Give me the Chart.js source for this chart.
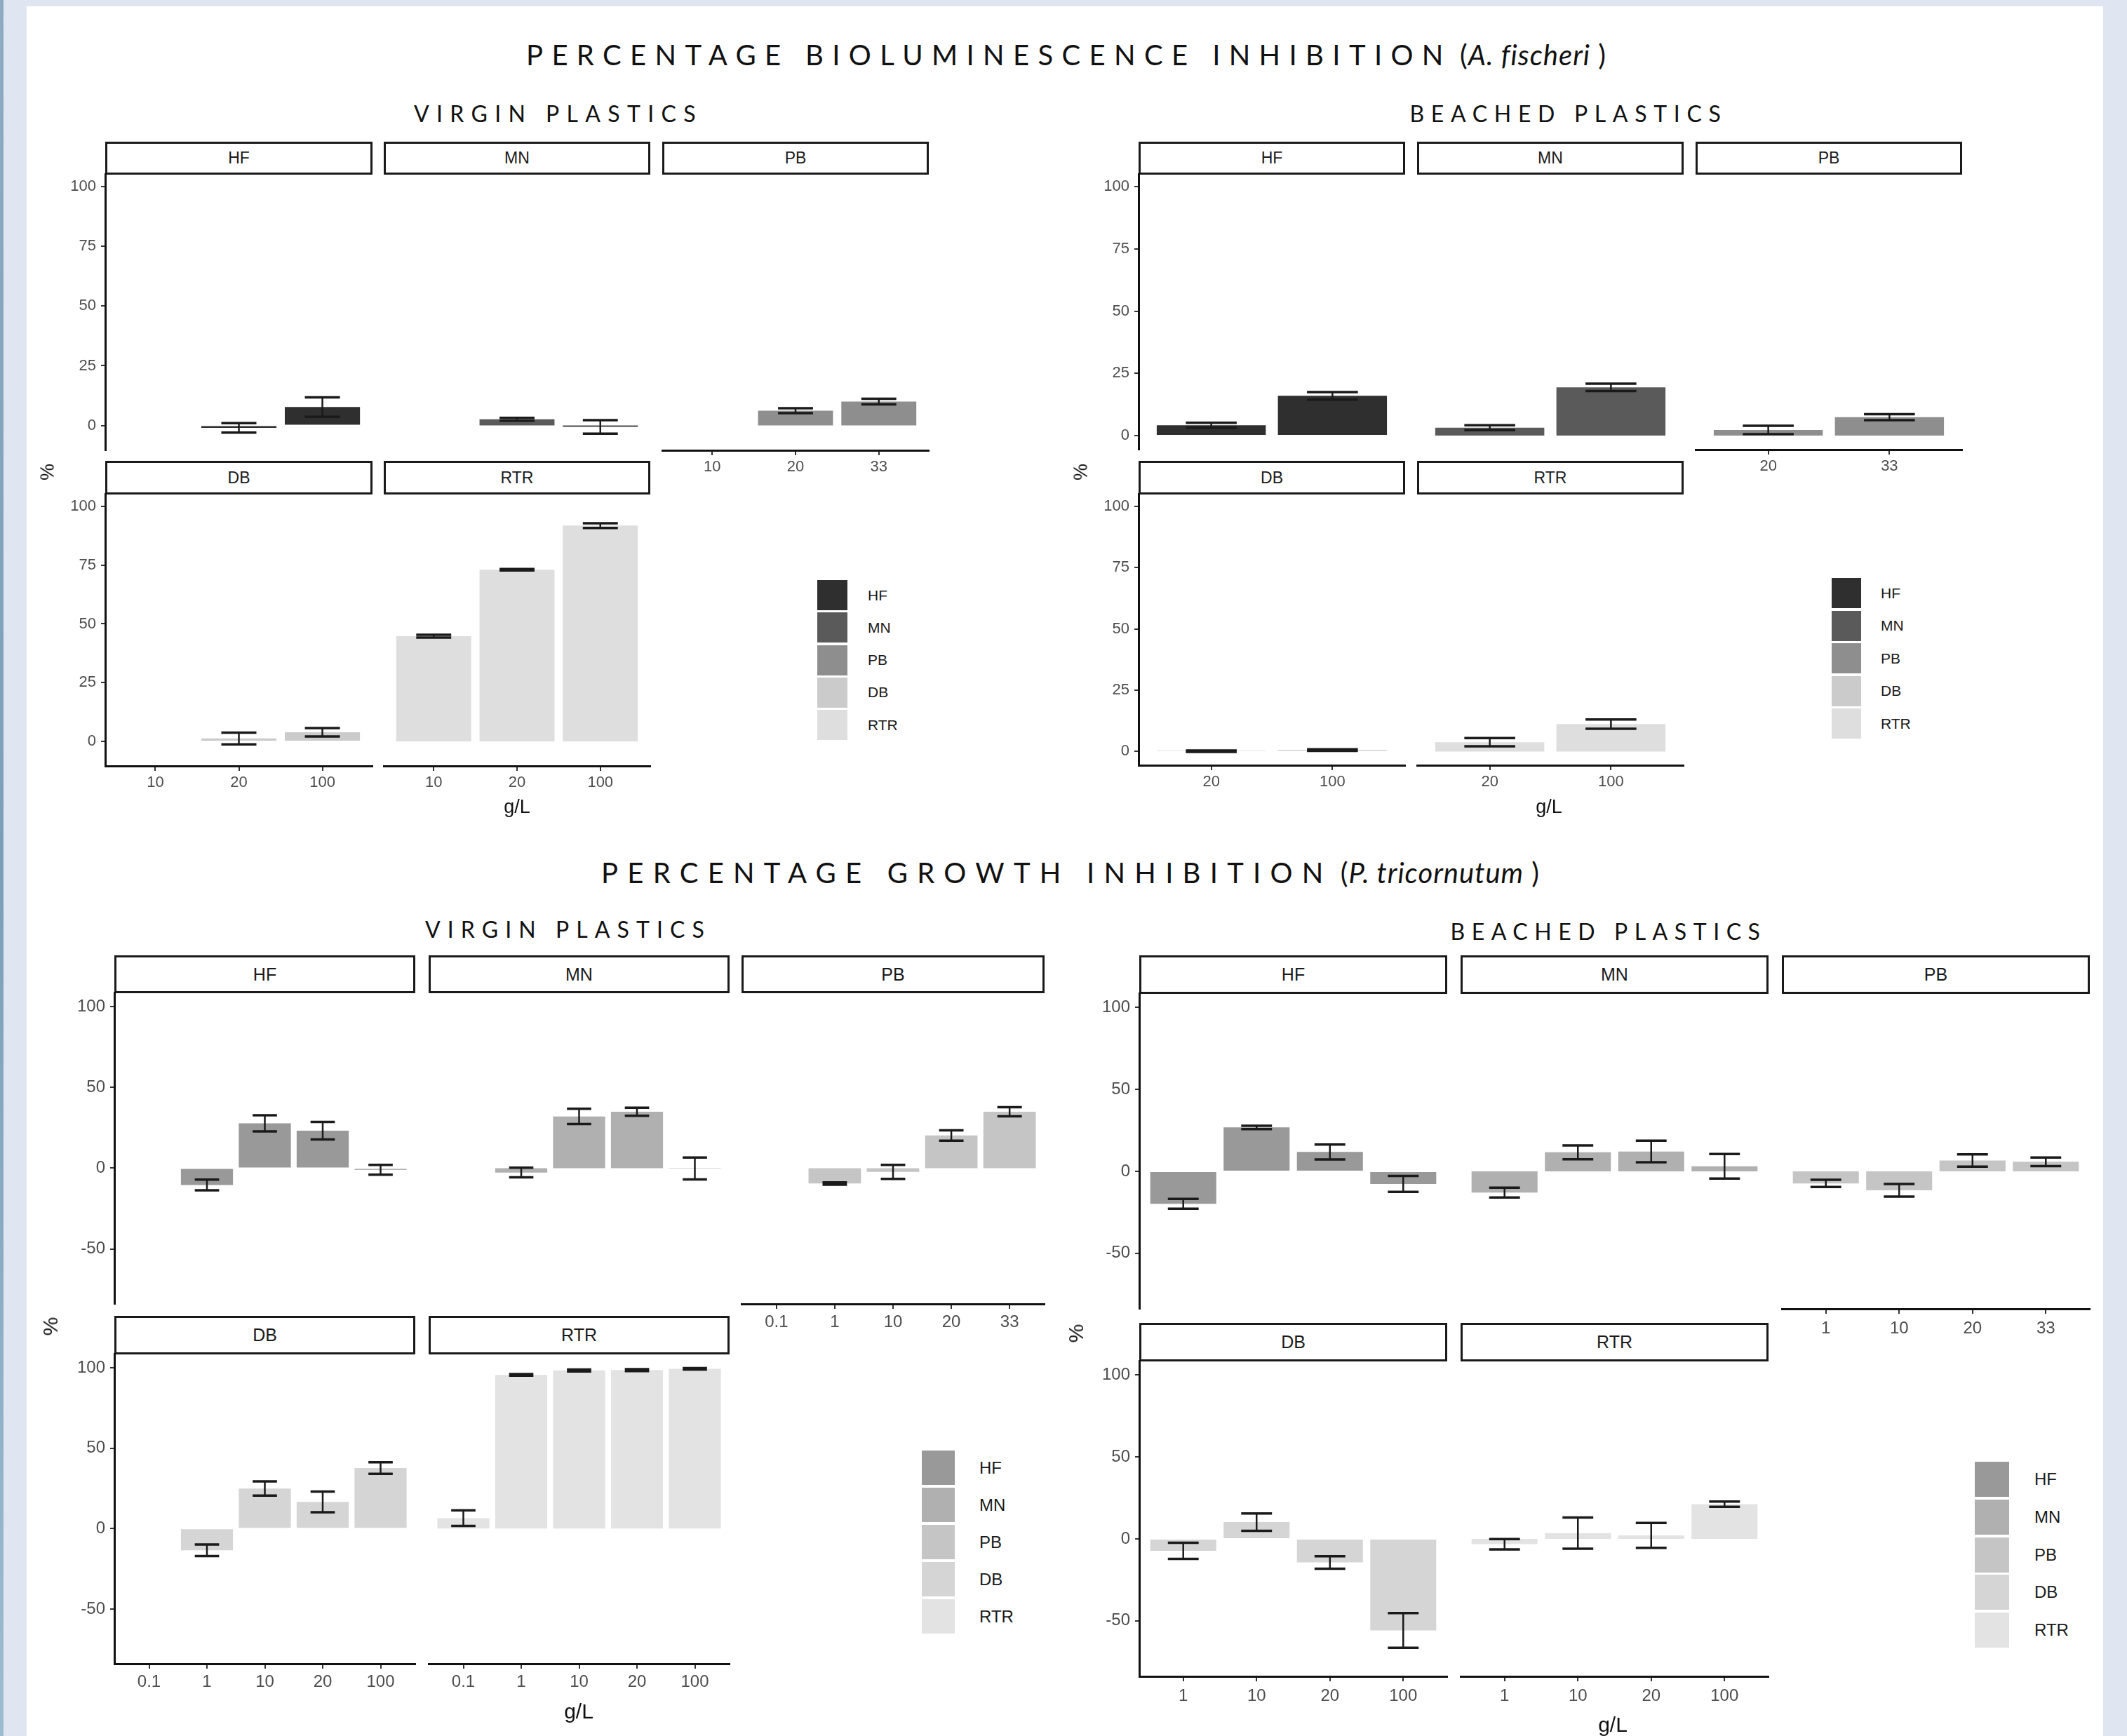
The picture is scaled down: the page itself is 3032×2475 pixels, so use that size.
<!DOCTYPE html>
<html>
<head>
<meta charset="utf-8">
<title>Percentage inhibition</title>
<script src="https://cdn.jsdelivr.net/npm/chart.js@4.4.1/dist/chart.umd.min.js"></script>
<style>
  html, body { margin: 0; padding: 0; }
  body { width: 3032px; height: 2475px; position: relative; overflow: hidden; background: #dfe6f2; font-family: 'Liberation Sans', Arial, sans-serif; }
  #edge { position: absolute; left: 0; top: 0; width: 5px; height: 2475px; background: linear-gradient(#8eabc2, #7c9fb9 50%, #9dbcd0); }
  #sheet { position: absolute; left: 38px; top: 9px; width: 2960px; height: 2466px; background: #fff; }
  canvas { position: absolute; }
  .strip { position: absolute; box-sizing: border-box; border: 3px solid #1a1a1a; background: #fff; color: #1a1a1a; display: flex; align-items: center; justify-content: center; }
  .title { position: absolute; white-space: nowrap; font-family: 'Lato', 'Open Sans', sans-serif; color: #111; transform: translate(-50%, -50%); line-height: 1; }
  .title .sp { letter-spacing: 1px; }
  .lab { position: absolute; white-space: nowrap; color: #111; transform: translate(-50%, -50%); }
  .key { position: absolute; }
  .ktxt { position: absolute; color: #1a1a1a; display: flex; align-items: center; }
</style>
</head>
<body>
<div id="edge"></div>
<div id="sheet"></div>

<div class="title" id="t1" style="left:1520px; top:78px; font-size:40px;"><span class="caps">PERCENTAGE BIOLUMINESCENCE INHIBITION</span><span class="sp"> (<i>A. fischeri</i> )</span></div>
<div class="title" id="s1" style="left:796px; top:162px; font-size:32px;"><span class="caps">VIRGIN PLASTICS</span></div>
<div class="title" id="s2" style="left:2236px; top:162px; font-size:32px;"><span class="caps">BEACHED PLASTICS</span></div>
<div class="title" id="t2" style="left:1526px; top:1244px; font-size:40px;"><span class="caps">PERCENTAGE GROWTH INHIBITION</span><span class="sp"> (<i>P. tricornutum</i> )</span></div>
<div class="title" id="s3" style="left:810px; top:1325px; font-size:32px;"><span class="caps">VIRGIN PLASTICS</span></div>
<div class="title" id="s4" style="left:2293px; top:1328px; font-size:32px;"><span class="caps">BEACHED PLASTICS</span></div>

<script>
// ---- data ----
var plastics = ['HF', 'MN', 'PB', 'DB', 'RTR'];

// x categories, g/L
var bioVirginDose = ['10', '20', '100'];
var bioVirginDosePB = ['10', '20', '33'];
var bioBeachedDose = ['20', '100'];
var bioBeachedDosePB = ['20', '33'];
var growVirginDose = ['0.1', '1', '10', '20', '100'];
var growVirginDosePB = ['0.1', '1', '10', '20', '33'];
var growBeachedDose = ['1', '10', '20', '100'];
var growBeachedDosePB = ['1', '10', '20', '33'];

// y tick labels
var bioTicks = [0, 25, 50, 75, 100];
var growTicks = [-50, 0, 50, 100];

// bioluminescence inhibition (A. fischeri), virgin plastics: mean and error
var bioVirginHF = [null, -1.0, 7.7];
var bioVirginHFsd = [null, 2.0, 4.1];
var bioVirginMN = [null, 2.6, -0.6];
var bioVirginMNsd = [null, 0.6, 2.8];
var bioVirginPB = [null, 6.2, 10.0];
var bioVirginPBsd = [null, 1.0, 1.2];
var bioVirginDB = [null, 1.3, 3.9];
var bioVirginDBsd = [null, 2.5, 1.8];
var bioVirginRTR = [44.8, 73.0, 91.8];
var bioVirginRTRsd = [0.6, 0.3, 1.0];

// bioluminescence inhibition, beached plastics
var bioBeachedHF = [4.2, 16.0];
var bioBeachedHFsd = [1.0, 1.5];
var bioBeachedMN = [3.2, 19.4];
var bioBeachedMNsd = [1.0, 1.5];
var bioBeachedPB = [2.3, 7.4];
var bioBeachedPBsd = [1.7, 1.2];
var bioBeachedDB = [0.1, 0.6];
var bioBeachedDBsd = [0.3, 0.3];
var bioBeachedRTR = [3.8, 11.2];
var bioBeachedRTRsd = [1.7, 1.9];

// growth inhibition (P. tricornutum), virgin plastics
var growVirginHF = [null, -10.4, 27.7, 23.2, -1.0];
var growVirginHFsd = [null, 3.3, 5.0, 5.4, 3.0];
var growVirginMN = [null, -2.7, 32.0, 34.9, -0.2];
var growVirginMNsd = [null, 3.0, 4.7, 2.5, 6.8];
var growVirginPB = [null, -9.5, -2.3, 20.2, 34.9];
var growVirginPBsd = [null, 0.7, 4.3, 3.2, 2.8];
var growVirginDB = [null, -13.5, 24.9, 16.6, 37.6];
var growVirginDBsd = [null, 3.6, 4.4, 6.4, 3.6];
var growVirginRTR = [6.5, 95.5, 98.3, 98.5, 99.3];
var growVirginRTRsd = [4.9, 0.5, 0.6, 0.6, 0.4];

// growth inhibition, beached plastics
var growBeachedHF = [-19.9, 26.8, 11.8, -7.7];
var growBeachedHFsd = [3.0, 1.0, 4.6, 4.9];
var growBeachedMN = [-13.0, 11.6, 12.1, 3.1];
var growBeachedMNsd = [3.0, 4.2, 6.6, 7.5];
var growBeachedPB = [-7.4, -11.6, 6.6, 5.8];
var growBeachedPBsd = [2.2, 3.9, 3.7, 2.6];
var growBeachedDB = [-7.3, 10.2, -14.4, -55.9];
var growBeachedDBsd = [4.9, 5.3, 3.8, 10.6];
var growBeachedRTR = [-3.3, 3.5, 2.1, 21.2];
var growBeachedRTRsd = [3.2, 9.5, 7.6, 1.6];

// fill colours
var bioGreys = ['#2f2f2f', '#5a5a5a', '#8e8e8e', '#cbcbcb', '#dedede'];
var growGreys = ['#999999', '#b0b0b0', '#c5c5c5', '#d5d5d5', '#e3e3e3'];

// ---- layout ----
var AXW = 80;   // room left of panel for y ticks
var AXH = 56;   // room under panel for x ticks
var slots = [[0, 0], [1, 0], [2, 0], [0, 1], [1, 1]];

var quads = [
  {
    cols: [[150, 531], [547, 927], [944, 1324]],
    rows: [[202, 247, 642], [657, 703, 1092]],
    yMin: -10.4, yMax: 105.6, yTicks: bioTicks, greys: bioGreys,
    facets: [
      [bioVirginDose, bioVirginHF, bioVirginHFsd],
      [bioVirginDose, bioVirginMN, bioVirginMNsd],
      [bioVirginDosePB, bioVirginPB, bioVirginPBsd],
      [bioVirginDose, bioVirginDB, bioVirginDBsd],
      [bioVirginDose, bioVirginRTR, bioVirginRTRsd]
    ],
    fs: 22, pad: 4, sfs: 23, pct: [68, 673], gl: [737, 1150], gfs: 27,
    leg: { x: 1165, y: 827, w: 43, h: 43, step: 46.25, tx: 1237, fs: 21 }
  },
  {
    cols: [[1623, 2003], [2020, 2400], [2417, 2797]],
    rows: [[202, 247, 641], [657, 703, 1091]],
    yMin: -5.6, yMax: 105.4, yTicks: bioTicks, greys: bioGreys,
    facets: [
      [bioBeachedDose, bioBeachedHF, bioBeachedHFsd],
      [bioBeachedDose, bioBeachedMN, bioBeachedMNsd],
      [bioBeachedDosePB, bioBeachedPB, bioBeachedPBsd],
      [bioBeachedDose, bioBeachedDB, bioBeachedDBsd],
      [bioBeachedDose, bioBeachedRTR, bioBeachedRTRsd]
    ],
    fs: 22, pad: 4, sfs: 23, pct: [1541, 673], gl: [2208, 1150], gfs: 27,
    leg: { x: 2611, y: 824, w: 42, h: 43, step: 46.5, tx: 2681, fs: 21 }
  },
  {
    cols: [[163, 592], [611, 1040], [1057, 1489]],
    rows: [[1362, 1414, 1859], [1876, 1929, 2372]],
    yMin: -84, yMax: 109.1, yTicks: growTicks, greys: growGreys,
    facets: [
      [growVirginDose, growVirginHF, growVirginHFsd],
      [growVirginDose, growVirginMN, growVirginMNsd],
      [growVirginDosePB, growVirginPB, growVirginPBsd],
      [growVirginDose, growVirginDB, growVirginDBsd],
      [growVirginDose, growVirginRTR, growVirginRTRsd]
    ],
    fs: 24, pad: 5, sfs: 25, pct: [72, 1891], gl: [825, 2440], gfs: 30,
    leg: { x: 1314, y: 2068, w: 47, h: 49, step: 53, tx: 1396, fs: 24 }
  },
  {
    cols: [[1624, 2063], [2082, 2521], [2540, 2979]],
    rows: [[1362, 1415, 1866], [1886, 1939, 2390]],
    yMin: -84, yMax: 109.2, yTicks: growTicks, greys: growGreys,
    facets: [
      [growBeachedDose, growBeachedHF, growBeachedHFsd],
      [growBeachedDose, growBeachedMN, growBeachedMNsd],
      [growBeachedDosePB, growBeachedPB, growBeachedPBsd],
      [growBeachedDose, growBeachedDB, growBeachedDBsd],
      [growBeachedDose, growBeachedRTR, growBeachedRTRsd]
    ],
    fs: 24, pad: 7, sfs: 25, pct: [1534, 1901], gl: [2299, 2459], gfs: 30,
    leg: { x: 2815, y: 2084, w: 49, h: 50, step: 53.75, tx: 2900, fs: 24 }
  }
];

// mean +/- error whiskers, drawn through the chart's own scales
var errorBars = {
  id: 'errorBars',
  afterDatasetsDraw: function(chart) {
    var ctx = chart.ctx;
    var xs = chart.scales.x, ys = chart.scales.y;
    var half = (xs.getPixelForValue(0.21) - xs.getPixelForValue(0));
    ctx.save();
    ctx.strokeStyle = '#1a1a1a';
    chart.data.datasets[0].data.forEach(function(p) {
      var x = xs.getPixelForValue(p.x);
      var top = ys.getPixelForValue(p.y + p.err);
      var bot = ys.getPixelForValue(p.y - p.err);
      ctx.lineWidth = 2.5;
      ctx.beginPath();
      ctx.moveTo(x, top); ctx.lineTo(x, bot);
      ctx.stroke();
      ctx.lineWidth = 3.5;
      ctx.beginPath();
      ctx.moveTo(x - half, top); ctx.lineTo(x + half, top);
      ctx.moveTo(x - half, bot); ctx.lineTo(x + half, bot);
      ctx.stroke();
    });
    ctx.restore();
  }
};

function addDiv(cls, css, html) {
  var d = document.createElement('div');
  d.className = cls;
  d.style.cssText = css;
  if (html !== undefined) d.innerHTML = html;
  document.body.appendChild(d);
  return d;
}

function makeFacet(q, k) {
  var col = q.cols[slots[k][0]], row = q.rows[slots[k][1]];
  var cats = q.facets[k][0], mean = q.facets[k][1], sd = q.facets[k][2];
  var showY = slots[k][0] === 0;
  var showX = k >= 2;

  // strip label box
  addDiv('strip', 'left:' + col[0] + 'px; top:' + row[0] + 'px; width:' + (col[1] - col[0]) +
    'px; height:' + (row[1] - row[0] + 2) + 'px; font-size:' + q.sfs + 'px;', plastics[k]);

  var pts = [];
  mean.forEach(function(v, i) {
    if (v !== null) pts.push({ x: i, y: v, err: sd[i] });
  });

  var w = col[1] - col[0] + AXW + 2;
  var h = row[2] - row[1] + AXH;
  var cv = document.createElement('canvas');
  cv.width = w; cv.height = h;
  cv.style.left = (col[0] - AXW) + 'px';
  cv.style.top = row[1] + 'px';
  cv.style.width = w + 'px';
  cv.style.height = h + 'px';
  document.body.appendChild(cv);

  var tickFont = { family: "'Liberation Sans', Arial, sans-serif", size: q.fs };

  new Chart(cv, {
    type: 'bar',
    data: {
      datasets: [{
        data: pts,
        backgroundColor: q.greys[k],
        borderWidth: 0,
        barPercentage: 0.9,
        categoryPercentage: 1.0
      }]
    },
    options: {
      responsive: false,
      animation: false,
      devicePixelRatio: 1,
      layout: { padding: { left: 0, right: 2, top: 0, bottom: 0 } },
      plugins: { legend: { display: false }, tooltip: { enabled: false } },
      scales: {
        x: {
          type: 'linear',
          min: -0.6,
          max: cats.length - 0.4,
          offset: false,
          afterBuildTicks: function(s) { s.ticks = cats.map(function(c, i) { return { value: i }; }); },
          afterFit: function(s) { s.height = AXH; s.paddingLeft = 0; s.paddingRight = 0; },
          ticks: {
            display: showX, autoSkip: false, maxRotation: 0, font: tickFont, color: '#4d4d4d', padding: q.pad,
            callback: function(v) { return cats[v]; }
          },
          grid: { display: showX, offset: false, drawOnChartArea: false, drawTicks: true, tickLength: 7, color: '#333', lineWidth: 2 },
          border: { display: showX, color: '#111', width: 3 }
        },
        y: {
          min: q.yMin,
          max: q.yMax,
          afterBuildTicks: function(s) { s.ticks = q.yTicks.map(function(v) { return { value: v }; }); },
          afterFit: function(s) { s.width = AXW; s.paddingTop = 0; s.paddingBottom = 0; },
          ticks: { display: showY, font: tickFont, color: '#4d4d4d', padding: 7 },
          grid: { display: showY, drawOnChartArea: false, drawTicks: true, tickLength: 6, color: '#333', lineWidth: 2 },
          border: { display: showY, color: '#111', width: 3 }
        }
      }
    },
    plugins: [errorBars]
  });
}

quads.forEach(function(q) {
  for (var k = 0; k < 5; k++) makeFacet(q, k);

  addDiv('lab', 'left:' + q.pct[0] + 'px; top:' + q.pct[1] + 'px; font-size:' + q.gfs + 'px; transform:translate(-50%,-50%) rotate(-90deg);', '%');
  addDiv('lab', 'left:' + q.gl[0] + 'px; top:' + q.gl[1] + 'px; font-size:' + q.gfs + 'px;', 'g/L');

  var L = q.leg;
  plastics.forEach(function(p, i) {
    var y = L.y + i * L.step;
    addDiv('key', 'left:' + L.x + 'px; top:' + y + 'px; width:' + L.w + 'px; height:' + L.h + 'px; background:' + q.greys[i] + ';');
    addDiv('ktxt', 'left:' + L.tx + 'px; top:' + y + 'px; height:' + L.h + 'px; font-size:' + L.fs + 'px;', p);
  });
});

// stretch the spaced capitals of the headings to the widths they have in the figure
function fitTitle(id, target) {
  var el = document.getElementById(id);
  var caps = el.querySelector('.caps');
  var n = caps.textContent.length;
  for (var pass = 0; pass < 2; pass++) {
    var w = el.getBoundingClientRect().width;
    var s = parseFloat(caps.style.letterSpacing) || 0;
    caps.style.letterSpacing = (s + (target - w) / n) + 'px';
  }
}
fitTitle('t1', 1540);
fitTitle('s1', 412);
fitTitle('s2', 453);
fitTitle('t2', 1338);
fitTitle('s3', 408);
fitTitle('s4', 451);
</script>
</body>
</html>
